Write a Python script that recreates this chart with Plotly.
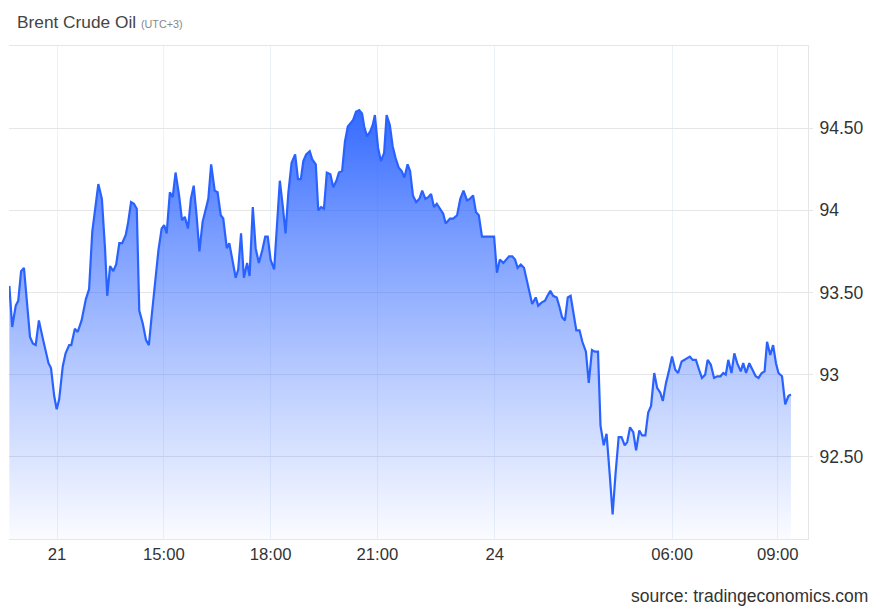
import plotly.graph_objects as go

# Trading-time axis (hours from 21st 00:00, on the chart's session scale)
hours = [
    10.66, 10.74, 10.84, 10.91, 10.99, 11.07, 11.24, 11.32, 11.40, 11.49, 11.59, 11.76, 11.83, 11.92, 11.99,
    12.06, 12.16, 12.24, 12.34, 12.40, 12.50, 12.58, 12.69, 12.81, 12.90, 12.99, 13.16, 13.26, 13.35, 13.41,
    13.49, 13.58, 13.66, 13.75, 13.83, 13.93, 14.00, 14.08, 14.16, 14.24, 14.31, 14.41, 14.50, 14.58, 14.66,
    14.75, 14.85, 14.94, 15.01, 15.08, 15.17, 15.25, 15.33, 15.43, 15.51, 15.59, 15.68, 15.76, 15.84, 15.92,
    16.00, 16.09, 16.25, 16.33, 16.43, 16.51, 16.60, 16.67, 16.77, 16.84, 16.94, 17.02, 17.09, 17.17, 17.25,
    17.34, 17.41, 17.50, 17.58, 17.67, 17.77, 17.85, 17.92, 18.00, 18.10, 18.17, 18.26, 18.34, 18.42, 18.50,
    18.59, 18.69, 18.77, 18.85, 18.92, 19.00, 19.10, 19.17, 19.27, 19.34, 19.42, 19.50, 19.58, 19.68, 19.76,
    19.85, 19.92, 20.01, 20.09, 20.17, 20.25, 20.32, 20.40, 20.49, 20.57, 20.63, 20.71, 20.80, 20.87, 20.93,
    21.02, 21.10, 21.19, 21.26, 21.35, 21.43, 21.51, 21.60, 21.68, 21.76, 21.85, 21.92, 22.00, 22.09, 22.18,
    22.26, 22.35, 22.43, 22.51, 22.59, 22.67, 22.76, 22.85, 22.92, 23.04, 23.13, 23.24, 23.33, 23.42, 23.52,
    23.60, 23.69, 23.77, 23.85, 23.94, 24.03, 24.12, 24.20, 24.28, 24.36, 24.44, 24.54, 24.62, 24.70, 24.79,
    24.87, 24.94, 25.03, 25.12, 25.20, 25.28, 25.35, 25.45, 25.52, 25.62, 25.71, 25.78, 25.86, 25.94, 26.04,
    26.12, 26.19, 26.27, 26.35, 26.43, 26.50, 26.59, 26.68, 26.76, 26.86, 26.94, 27.03, 27.11, 27.20, 27.27,
    27.36, 27.44, 27.53, 27.61, 27.69, 27.78, 27.86, 27.95, 28.02, 28.10, 28.19, 28.27, 28.36, 28.44, 28.53,
    28.61, 28.69, 28.78, 28.86, 28.95, 29.02, 29.11, 29.19, 29.28, 29.37, 29.45, 29.55, 29.64, 29.71, 29.78,
    29.86, 29.95, 30.04, 30.12, 30.21, 30.28, 30.37, 30.46, 30.55, 30.64, 30.72, 30.79, 30.86, 30.95, 31.03,
    31.11, 31.21, 31.28, 31.36, 31.45, 31.54, 31.63, 31.71, 31.80, 31.88, 31.95, 32.04, 32.12, 32.20, 32.27,
    32.37, 32.46, 32.55, 32.62,
]

prices = [
    93.54, 93.29, 93.42, 93.45, 93.63, 93.65, 93.23, 93.19, 93.18, 93.33, 93.23, 93.07, 93.04, 92.87, 92.79,
    92.85, 93.05, 93.13, 93.18, 93.18, 93.28, 93.26, 93.33, 93.46, 93.52, 93.87, 94.16, 94.07, 93.76, 93.48,
    93.66, 93.63, 93.67, 93.80, 93.80, 93.85, 93.93, 94.05, 94.04, 94.01, 93.39, 93.31, 93.21, 93.18, 93.36,
    93.56, 93.76, 93.89, 93.91, 93.86, 94.11, 94.08, 94.23, 94.09, 93.94, 93.96, 93.89, 94.07, 94.15, 93.97,
    93.75, 93.93, 94.07, 94.28, 94.12, 94.11, 93.97, 93.95, 93.77, 93.80, 93.67, 93.59, 93.64, 93.86, 93.59,
    93.68, 93.60, 94.02, 93.77, 93.68, 93.76, 93.84, 93.84, 93.70, 93.64, 93.91, 94.18, 94.03, 93.86, 94.11,
    94.29, 94.34, 94.19, 94.19, 94.30, 94.34, 94.36, 94.31, 94.28, 94.00, 94.02, 94.01, 94.23, 94.22, 94.14,
    94.18, 94.23, 94.24, 94.42, 94.51, 94.53, 94.55, 94.60, 94.61, 94.59, 94.51, 94.45, 94.48, 94.52, 94.58,
    94.38, 94.30, 94.35, 94.58, 94.52, 94.39, 94.32, 94.26, 94.24, 94.20, 94.28, 94.24, 94.09, 94.05, 94.07,
    94.12, 94.07, 94.08, 94.10, 94.02, 94.04, 94.01, 93.98, 93.92, 93.95, 93.95, 93.97, 94.07, 94.12, 94.06,
    94.07, 94.09, 93.99, 93.97, 93.84, 93.84, 93.84, 93.84, 93.84, 93.62, 93.70, 93.68, 93.70, 93.72, 93.72,
    93.70, 93.65, 93.67, 93.65, 93.57, 93.50, 93.43, 93.47, 93.42, 93.44, 93.45, 93.48, 93.51, 93.48, 93.47,
    93.41, 93.35, 93.33, 93.47, 93.48, 93.39, 93.27, 93.27, 93.20, 93.14, 92.95, 93.15, 93.14, 93.14, 92.69,
    92.57, 92.64, 92.39, 92.15, 92.39, 92.62, 92.62, 92.57, 92.59, 92.68, 92.65, 92.54, 92.66, 92.63, 92.63,
    92.77, 92.81, 93.01, 92.92, 92.89, 92.84, 92.95, 93.02, 93.11, 93.03, 93.01, 93.08, 93.09, 93.10, 93.11,
    93.09, 93.09, 93.03, 92.98, 93.00, 93.09, 93.06, 92.98, 92.99, 92.99, 93.01, 93.00, 93.09, 93.01, 93.13,
    93.07, 93.02, 93.07, 93.01, 93.07, 93.03, 92.99, 92.98, 93.01, 93.02, 93.20, 93.12, 93.18, 93.07, 93.01,
    92.99, 92.82, 92.87, 92.88,
]

x_tick_pos = [12, 15, 18, 21, 24.30, 29.28, 32.25]
x_tick_text = ["21", "15:00", "18:00", "21:00", "24", "06:00", "09:00"]
y_tick_vals = [92.5, 93, 93.5, 94, 94.5]
y_tick_text = ["92.50", "93", "93.50", "94", "94.50"]

BLUE = "rgb(41,98,255)"

fig = go.Figure()
fig.add_trace(go.Scatter(
    x=hours, y=prices, mode="lines",
    line=dict(color=BLUE, width=2.2),
    fill="tozeroy",
    fillgradient=dict(
        type="vertical", start=92.0, stop=94.62,
        colorscale=[[0, "rgba(41,98,255,0.02)"], [0.35, "rgba(41,98,255,0.30)"],
                    [0.7, "rgba(41,98,255,0.62)"], [1, "rgba(41,98,255,0.95)"]],
    ),
    hoverinfo="skip", showlegend=False,
))

fig.update_layout(
    width=872, height=602,
    margin=dict(l=1, r=72, t=38, b=71),
    paper_bgcolor="white", plot_bgcolor="white",
    font=dict(family="Liberation Sans, Arial, sans-serif", color="#333333"),
    xaxis=dict(
        range=[10.65, 33.1], tickvals=x_tick_pos, ticktext=x_tick_text,
        showgrid=True, gridcolor="#edf2f8", gridwidth=1,
        showline=True, linecolor="#e6e6e6", linewidth=1, mirror=True,
        ticks="", tickfont=dict(size=16.7, color="#333333"), zeroline=False,
    ),
    yaxis=dict(
        range=[92.0, 95.0], side="right", tickvals=y_tick_vals, ticktext=y_tick_text,
        showgrid=True, gridcolor="#e6e6e6", gridwidth=1,
        showline=True, linecolor="#e6e6e6", linewidth=1,
        ticks="outside", ticklen=4, tickcolor="#e6e6e6", ticklabelstandoff=3,
        tickfont=dict(size=17.5, color="#333333"), zeroline=False,
    ),
    annotations=[
        dict(text="Brent Crude Oil <span style='font-size:10.8px;color:#888888'>(UTC+3)</span>",
             xref="paper", yref="paper", x=0.0075, y=1.049, xanchor="left", yanchor="middle",
             showarrow=False, font=dict(size=17.3, color="#444444")),
        dict(text="source: tradingeconomics.com", xref="paper", yref="paper",
             x=1.077, y=-0.116, xanchor="right", yanchor="middle", showarrow=False,
             font=dict(size=17.5, color="#333333")),
    ],
)

fig.write_html("out.html")
